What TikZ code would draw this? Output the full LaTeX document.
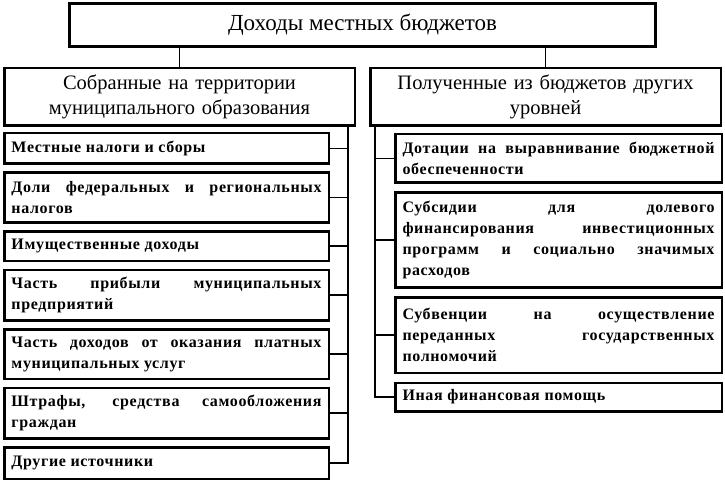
\documentclass[tikz,border=0pt]{standalone}
\usepackage{fontspec}
\setmainfont{Liberation Serif}
\usepackage{tikz}
\usetikzlibrary{positioning}
\hyphenpenalty=10000
\tolerance=9999
\tikzstyle{title} = [rectangle, draw, line width=3pt, minimum width=586pt, minimum height=43pt, font=\fontsize{23}{27}\selectfont]
\tikzstyle{group} = [rectangle, draw, line width=2.5pt, minimum width=350.5pt, minimum height=57.5pt, text width=340pt, text centered, font=\fontsize{20.5}{25}\selectfont]
\tikzstyle{item} = [rectangle, draw, line width=2.5pt, minimum width=324.5pt, inner xsep=7pt, text width=310pt, align=justify, font=\fontsize{16}{21}\selectfont\bfseries\addfontfeature{LetterSpace=4}]
\tikzstyle{ritem} = [item, minimum width=326.5pt, text width=312pt]
\tikzstyle{link} = [line width=1.5pt]

\begin{document}
\begin{tikzpicture}[node distance=6.5pt]
  \useasboundingbox (0,0) rectangle (725pt,-481pt);
  \node (title) [title] at (362.5pt,-25pt) {Доходы местных бюджетов};
  \node (lhead) [group] at (179.5pt,-97pt) {Собранные на территории\\муниципального образования};
  \node (rhead) [group] at (545.5pt,-97pt) {Полученные из бюджетов других\\уровней};
  \draw [link] (lhead.north) -- (lhead.north |- title.south);
  \draw [link] (rhead.north) -- (rhead.north |- title.south);
  \node (l1) [item, minimum height=30.5pt, below=5pt of lhead.south west, anchor=north west] {Местные налоги и сборы};
  \node (l2) [item, minimum height=49.5pt, below=of l1] {Доли федеральных и региональных \linebreak налогов};
  \node (l3) [item, minimum height=29.5pt, below=of l2] {Имущественные доходы};
  \node (l4) [item, minimum height=50.5pt, below=of l3] {Часть прибыли муниципальных \linebreak предприятий};
  \node (l5) [item, minimum height=49.5pt, below=of l4] {Часть доходов от оказания платных \linebreak муниципальных услуг};
  \node (l6) [item, minimum height=50.5pt, below=of l5] {Штрафы, средства самообложения \linebreak граждан};
  \node (l7) [item, minimum height=31.5pt, below=of l6] {Другие источники};
  \coordinate (lbus) at (348pt,0);
  \draw [link] (lhead.south -| lbus) |- (l7.east);
  \foreach \i in {1,...,6}
    \draw [link] (l\i.east) -- (l\i.east -| lbus);
  \node (r1) [ritem, minimum height=48.5pt, below=6pt of rhead.south west, anchor=north west, xshift=25pt] {Дотации на выравнивание бюджетной \linebreak обеспеченности};
  \node (r2) [ritem, minimum height=94.5pt, below=7.5pt of r1] {Субсидии для долевого \linebreak финансирования инвестиционных \linebreak программ и социально значимых \linebreak расходов};
  \node (r3) [ritem, minimum height=75.5pt, below=7.5pt of r2] {Субвенции на осуществление \linebreak переданных государственных \linebreak полномочий};
  \node (r4) [ritem, minimum height=28.5pt, below=7.5pt of r3] {Иная финансовая помощь};
  \coordinate (rbus) at (375pt,0);
  \draw [link] (rhead.south -| rbus) |- (r4.west);
  \foreach \i in {1,2,3}
    \draw [link] (r\i.west) -- (r\i.west -| rbus);
\end{tikzpicture}
\end{document}
